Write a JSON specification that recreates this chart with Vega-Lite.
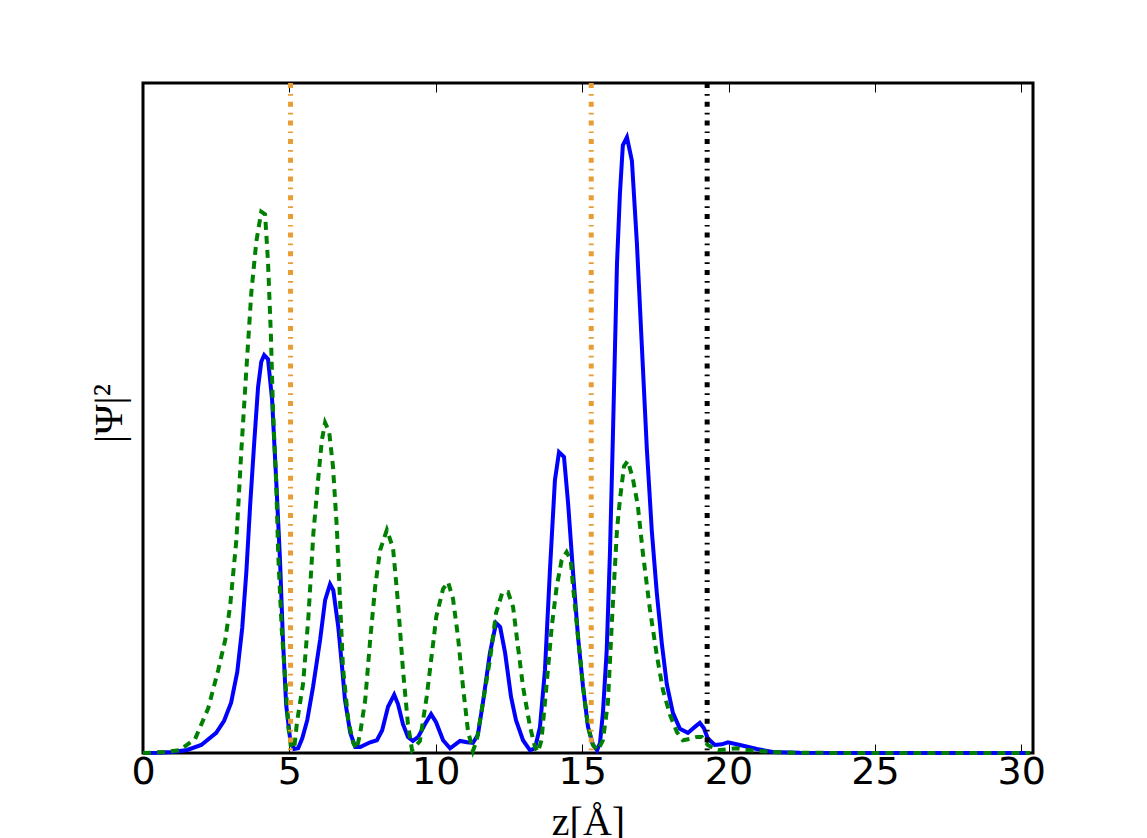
{
  "$schema": "https://vega.github.io/schema/vega-lite/v6.json",
  "width": 890,
  "height": 670,
  "autosize": {"type": "none"},
  "padding": {"left": 143, "top": 83, "right": 114, "bottom": 85},
  "background": "white",
  "config": {"view": {"stroke": "black", "strokeWidth": 3}, "axis": {"grid": false}},
  "datasets": {
    "blue": [
      {"z": 0, "psi2": 0}, {"z": 0.49, "psi2": 0.0003}, {"z": 1.0, "psi2": 0.0015}, {"z": 1.51, "psi2": 0.0045},
      {"z": 1.99, "psi2": 0.012}, {"z": 2.5, "psi2": 0.03}, {"z": 2.77, "psi2": 0.048}, {"z": 3.01, "psi2": 0.075},
      {"z": 3.22, "psi2": 0.121}, {"z": 3.39, "psi2": 0.187}, {"z": 3.53, "psi2": 0.27}, {"z": 3.66, "psi2": 0.37},
      {"z": 3.8, "psi2": 0.464}, {"z": 3.93, "psi2": 0.546}, {"z": 4.04, "psi2": 0.584}, {"z": 4.14, "psi2": 0.594},
      {"z": 4.27, "psi2": 0.588}, {"z": 4.41, "psi2": 0.527}, {"z": 4.55, "psi2": 0.407}, {"z": 4.68, "psi2": 0.288},
      {"z": 4.78, "psi2": 0.169}, {"z": 4.89, "psi2": 0.072}, {"z": 5.03, "psi2": 0.019}, {"z": 5.16, "psi2": 0.006},
      {"z": 5.3, "psi2": 0.007}, {"z": 5.44, "psi2": 0.022}, {"z": 5.61, "psi2": 0.049}, {"z": 5.81, "psi2": 0.099},
      {"z": 6.05, "psi2": 0.169}, {"z": 6.22, "psi2": 0.228}, {"z": 6.39, "psi2": 0.252}, {"z": 6.5, "psi2": 0.243},
      {"z": 6.67, "psi2": 0.188}, {"z": 6.8, "psi2": 0.128}, {"z": 6.9, "psi2": 0.079}, {"z": 7.08, "psi2": 0.03},
      {"z": 7.25, "psi2": 0.009}, {"z": 7.42, "psi2": 0.009}, {"z": 7.76, "psi2": 0.016}, {"z": 7.99, "psi2": 0.019},
      {"z": 8.17, "psi2": 0.034}, {"z": 8.37, "psi2": 0.069}, {"z": 8.58, "psi2": 0.087}, {"z": 8.71, "psi2": 0.073},
      {"z": 8.88, "psi2": 0.043}, {"z": 9.05, "psi2": 0.024}, {"z": 9.22, "psi2": 0.018}, {"z": 9.4, "psi2": 0.024},
      {"z": 9.63, "psi2": 0.043}, {"z": 9.84, "psi2": 0.058}, {"z": 10.01, "psi2": 0.046}, {"z": 10.25, "psi2": 0.019},
      {"z": 10.49, "psi2": 0.007}, {"z": 10.83, "psi2": 0.018}, {"z": 11.07, "psi2": 0.016}, {"z": 11.27, "psi2": 0.015},
      {"z": 11.44, "psi2": 0.027}, {"z": 11.61, "psi2": 0.075}, {"z": 11.85, "psi2": 0.149}, {"z": 12.06, "psi2": 0.194},
      {"z": 12.2, "psi2": 0.188}, {"z": 12.37, "psi2": 0.149}, {"z": 12.57, "psi2": 0.084}, {"z": 12.74, "psi2": 0.049},
      {"z": 12.98, "psi2": 0.019}, {"z": 13.22, "psi2": 0.004}, {"z": 13.39, "psi2": 0.007}, {"z": 13.56, "psi2": 0.039},
      {"z": 13.73, "psi2": 0.124}, {"z": 13.9, "psi2": 0.273}, {"z": 14.07, "psi2": 0.407}, {"z": 14.21, "psi2": 0.449},
      {"z": 14.38, "psi2": 0.442}, {"z": 14.52, "psi2": 0.373}, {"z": 14.69, "psi2": 0.269}, {"z": 14.86, "psi2": 0.173},
      {"z": 15.03, "psi2": 0.099}, {"z": 15.2, "psi2": 0.039}, {"z": 15.37, "psi2": 0.012}, {"z": 15.51, "psi2": 0.004},
      {"z": 15.61, "psi2": 0.015}, {"z": 15.71, "psi2": 0.06}, {"z": 15.84, "psi2": 0.154}, {"z": 15.95, "psi2": 0.299},
      {"z": 16.05, "psi2": 0.472}, {"z": 16.19, "psi2": 0.73}, {"z": 16.29, "psi2": 0.834}, {"z": 16.39, "psi2": 0.907},
      {"z": 16.53, "psi2": 0.919}, {"z": 16.7, "psi2": 0.884}, {"z": 16.87, "psi2": 0.761}, {"z": 17.04, "psi2": 0.607},
      {"z": 17.21, "psi2": 0.454}, {"z": 17.38, "psi2": 0.331}, {"z": 17.55, "psi2": 0.239}, {"z": 17.72, "psi2": 0.164},
      {"z": 17.89, "psi2": 0.103}, {"z": 18.1, "psi2": 0.06}, {"z": 18.34, "psi2": 0.036}, {"z": 18.61, "psi2": 0.03},
      {"z": 18.85, "psi2": 0.039}, {"z": 19.02, "psi2": 0.045}, {"z": 19.16, "psi2": 0.037}, {"z": 19.29, "psi2": 0.022},
      {"z": 19.53, "psi2": 0.012}, {"z": 19.77, "psi2": 0.013}, {"z": 19.98, "psi2": 0.016}, {"z": 20.39, "psi2": 0.012},
      {"z": 20.97, "psi2": 0.006}, {"z": 21.51, "psi2": 0.0015}, {"z": 22.44, "psi2": 0.0003}, {"z": 25.0, "psi2": 0},
      {"z": 30.3, "psi2": 0}
    ],
    "green": [
      {"z": 0, "psi2": 0}, {"z": 0.76, "psi2": 0.0015}, {"z": 1.27, "psi2": 0.0045}, {"z": 1.78, "psi2": 0.021},
      {"z": 2.23, "psi2": 0.067}, {"z": 2.57, "psi2": 0.124}, {"z": 2.81, "psi2": 0.169}, {"z": 2.98, "psi2": 0.221},
      {"z": 3.19, "psi2": 0.318}, {"z": 3.36, "psi2": 0.452}, {"z": 3.53, "psi2": 0.572}, {"z": 3.7, "psi2": 0.687},
      {"z": 3.87, "psi2": 0.763}, {"z": 4.04, "psi2": 0.808}, {"z": 4.17, "psi2": 0.804}, {"z": 4.27, "psi2": 0.733},
      {"z": 4.37, "psi2": 0.622}, {"z": 4.44, "psi2": 0.512}, {"z": 4.55, "psi2": 0.403}, {"z": 4.62, "psi2": 0.294},
      {"z": 4.74, "psi2": 0.184}, {"z": 4.87, "psi2": 0.103}, {"z": 4.97, "psi2": 0.037}, {"z": 5.06, "psi2": 0.007},
      {"z": 5.17, "psi2": 0.009}, {"z": 5.26, "psi2": 0.046}, {"z": 5.47, "psi2": 0.104}, {"z": 5.65, "psi2": 0.203},
      {"z": 5.82, "psi2": 0.328}, {"z": 5.99, "psi2": 0.412}, {"z": 6.11, "psi2": 0.467}, {"z": 6.22, "psi2": 0.493},
      {"z": 6.36, "psi2": 0.479}, {"z": 6.49, "psi2": 0.427}, {"z": 6.62, "psi2": 0.337}, {"z": 6.73, "psi2": 0.228},
      {"z": 6.83, "psi2": 0.128}, {"z": 7.01, "psi2": 0.049}, {"z": 7.18, "psi2": 0.015}, {"z": 7.3, "psi2": 0.006},
      {"z": 7.42, "psi2": 0.03}, {"z": 7.59, "psi2": 0.079}, {"z": 7.76, "psi2": 0.169}, {"z": 7.93, "psi2": 0.248},
      {"z": 8.1, "psi2": 0.303}, {"z": 8.33, "psi2": 0.333}, {"z": 8.54, "psi2": 0.306}, {"z": 8.71, "psi2": 0.224},
      {"z": 8.88, "psi2": 0.124}, {"z": 9.05, "psi2": 0.043}, {"z": 9.19, "psi2": 0.004}, {"z": 9.46, "psi2": 0.018},
      {"z": 9.69, "psi2": 0.084}, {"z": 9.87, "psi2": 0.149}, {"z": 10.02, "psi2": 0.204}, {"z": 10.25, "psi2": 0.245},
      {"z": 10.42, "psi2": 0.255}, {"z": 10.59, "psi2": 0.23}, {"z": 10.76, "psi2": 0.173}, {"z": 10.93, "psi2": 0.099},
      {"z": 11.1, "psi2": 0.033}, {"z": 11.27, "psi2": 0.003}, {"z": 11.4, "psi2": 0.019}, {"z": 11.61, "psi2": 0.075},
      {"z": 11.85, "psi2": 0.139}, {"z": 12.06, "psi2": 0.209}, {"z": 12.27, "psi2": 0.239}, {"z": 12.47, "psi2": 0.24},
      {"z": 12.64, "psi2": 0.218}, {"z": 12.81, "psi2": 0.158}, {"z": 12.98, "psi2": 0.099}, {"z": 13.22, "psi2": 0.039},
      {"z": 13.39, "psi2": 0.009}, {"z": 13.49, "psi2": 0.0015}, {"z": 13.61, "psi2": 0.019}, {"z": 13.78, "psi2": 0.099},
      {"z": 13.96, "psi2": 0.188}, {"z": 14.13, "psi2": 0.248}, {"z": 14.3, "psi2": 0.288}, {"z": 14.47, "psi2": 0.3},
      {"z": 14.61, "psi2": 0.288}, {"z": 14.69, "psi2": 0.248}, {"z": 14.86, "psi2": 0.173}, {"z": 15.03, "psi2": 0.099},
      {"z": 15.2, "psi2": 0.039}, {"z": 15.37, "psi2": 0.012}, {"z": 15.54, "psi2": 0.004}, {"z": 15.71, "psi2": 0.019},
      {"z": 15.88, "psi2": 0.075}, {"z": 16.02, "psi2": 0.199}, {"z": 16.19, "psi2": 0.333}, {"z": 16.29, "psi2": 0.378},
      {"z": 16.43, "psi2": 0.428}, {"z": 16.56, "psi2": 0.436}, {"z": 16.73, "psi2": 0.41}, {"z": 16.9, "psi2": 0.37},
      {"z": 17.07, "psi2": 0.3}, {"z": 17.31, "psi2": 0.216}, {"z": 17.55, "psi2": 0.146}, {"z": 17.76, "psi2": 0.094},
      {"z": 18.0, "psi2": 0.057}, {"z": 18.24, "psi2": 0.031}, {"z": 18.44, "psi2": 0.019}, {"z": 18.68, "psi2": 0.021},
      {"z": 18.92, "psi2": 0.024}, {"z": 19.09, "psi2": 0.024}, {"z": 19.29, "psi2": 0.012}, {"z": 19.64, "psi2": 0.004},
      {"z": 20.28, "psi2": 0.007}, {"z": 20.73, "psi2": 0.004}, {"z": 21.51, "psi2": 0.0015}, {"z": 22.44, "psi2": 0.0003},
      {"z": 25.0, "psi2": 0}, {"z": 30.3, "psi2": 0}
    ],
    "vlines": [
      {"z": 5.04, "kind": "interface"},
      {"z": 15.31, "kind": "interface"},
      {"z": 19.27, "kind": "surface"}
    ]
  },
  "layer": [
    {
      "data": {"name": "blue"},
      "mark": {"type": "line", "color": "#0000ff", "strokeWidth": 4},
      "encoding": {
        "x": {
          "field": "z", "type": "quantitative",
          "scale": {"domain": [0, 30.4], "nice": false, "zero": false},
          "axis": {
            "orient": "bottom", "values": [0, 5, 10, 15, 20, 25, 30], "format": "d",
            "domain": false, "tickSize": -9, "tickColor": "black", "tickWidth": 1,
            "labelFont": "DejaVu Sans", "labelFontSize": 38, "labelColor": "black",
            "labelBaseline": "alphabetic", "labelPadding": 39, "labelFlush": false, "labelOverlap": false,
            "title": "z[Å]", "titleFont": "Liberation Serif", "titleFontSize": 40, "titleFontWeight": "normal",
            "titleColor": "black", "titleX": 445, "titleY": 81, "titleBaseline": "alphabetic", "titleAlign": "center"
          }
        },
        "y": {
          "field": "psi2", "type": "quantitative",
          "scale": {"domain": [0, 1], "nice": false},
          "axis": {
            "orient": "left", "domain": false, "ticks": false, "labels": false,
            "title": "|Ψ|²", "titleFont": "Liberation Serif", "titleFontSize": 41, "titleFontWeight": "normal",
            "titleColor": "black", "titleAngle": -90, "titleX": -22, "titleY": 330,
            "titleAlign": "center", "titleBaseline": "alphabetic"
          }
        }
      }
    },
    {
      "data": {"name": "green"},
      "mark": {"type": "line", "color": "#008000", "strokeWidth": 4, "strokeDash": [8, 6]},
      "encoding": {
        "x": {
          "field": "z", "type": "quantitative",
          "axis": {
            "orient": "top", "values": [0, 5, 10, 15, 20, 25, 30], "domain": false,
            "tickSize": -9, "tickColor": "black", "tickWidth": 1, "labels": false, "title": null
          }
        },
        "y": {"field": "psi2", "type": "quantitative", "axis": null}
      }
    },
    {
      "data": {"name": "vlines"},
      "mark": {"type": "rule", "strokeWidth": 5, "strokeDash": [5, 6, 1.7, 6]},
      "encoding": {
        "x": {"field": "z", "type": "quantitative", "axis": null},
        "color": {
          "field": "kind", "type": "nominal",
          "scale": {"domain": ["interface", "surface"], "range": ["#e89c34", "#000000"]},
          "legend": null
        }
      }
    }
  ],
  "resolve": {"axis": {"x": "independent", "y": "independent"}}
}
